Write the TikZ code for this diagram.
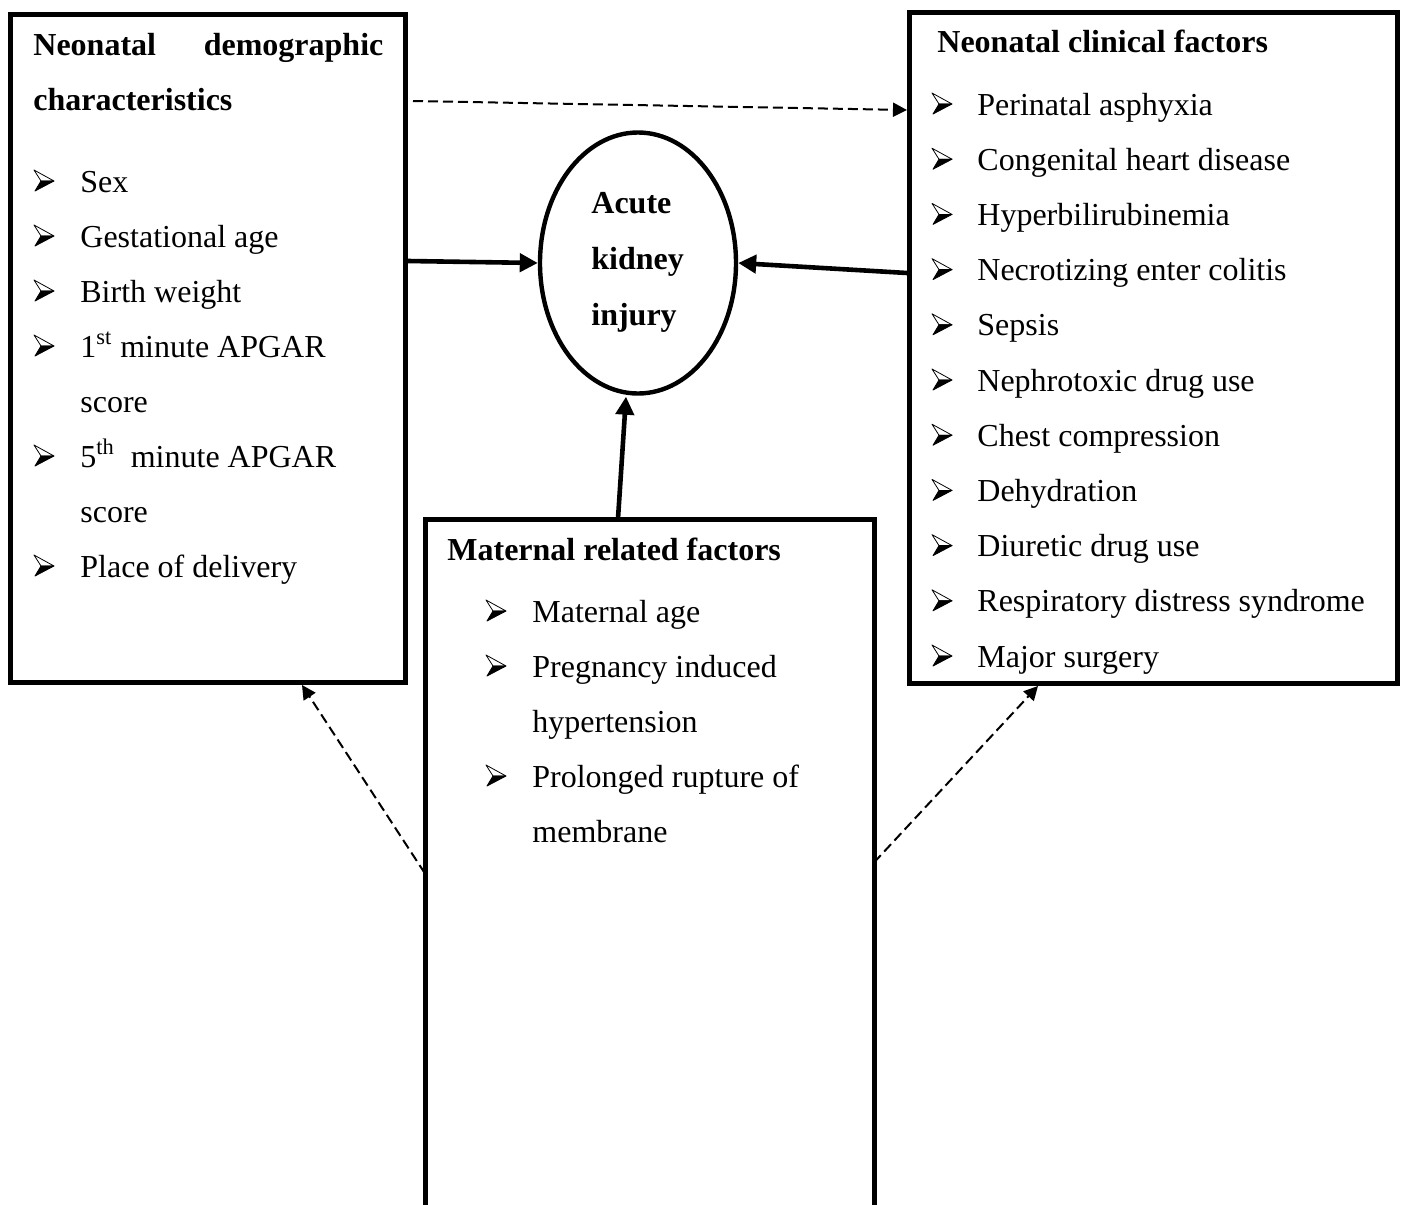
\documentclass[tikz,border=0pt]{standalone}
\usepackage{fontspec}
\setmainfont{Liberation Serif}
\usetikzlibrary{arrows.meta,calc,shapes.geometric}
\tikzset{
  box/.style={draw, line width=2.5pt, rectangle, inner sep=0pt},
  txt/.style={anchor=base west, inner sep=0pt, font=\fontsize{16}{19}\selectfont},
  hd/.style={anchor=base west, inner sep=0pt, font=\fontsize{16}{19}\selectfont\bfseries},
  solidarr/.style={line width=2.3pt, -{Triangle[length=9pt,width=9pt]}},
  dasharr/.style={line width=1pt, dash pattern=on 5pt off 2.5pt, -{Triangle[length=7pt,width=7pt]}},
  abul/.pic={
    \filldraw[fill=white, draw=black, line width=0.4pt, line join=round] (0,-22) -- (20,-11) -- (7,-11) -- cycle;
    \filldraw[fill=black, draw=black, line width=0.4pt, line join=round] (7,-11) -- (20,-11) -- (1,-1) -- cycle;
  },
}
\begin{document}
\begin{tikzpicture}[x=0.5pt,y=-0.5pt]
\fill[white] (0,0) rectangle (1404,1205);
\useasboundingbox (0,0) rectangle (1404,1205);

% boxes
\node[box, minimum width=197.5pt, minimum height=334pt] (L) at (208,348.5) {};
\node[box, minimum width=244pt, minimum height=335.5pt] (R) at (1153.5,348) {};
\node[draw=none, inner sep=0pt, outer sep=0pt, minimum width=224.5pt, minimum height=349pt] (M) at (649.5,868.5) {};
\draw[line width=2.5pt] ($(M.north west)+(0,700)$) -- (M.north west) -- (M.north east) -- ($(M.north east)+(0,700)$);

% ellipse
\node[draw, ellipse, line width=2.2pt, minimum width=98pt, minimum height=130.5pt, inner sep=0pt] (A) at (638,263) {};
\node[hd] (a1) at (591,213) {Acute};
\node[hd] (a2) at (591,269) {kidney};
\node[hd] (a3) at (591,325) {injury};

% left box text
\node[hd] (lh1) at (33,55) {\makebox[175pt][l]{Neonatal\hfill demographic}};
\node[hd] (lh2) at (33,110) {characteristics};
\pic (lb1) at (34,192) {abul}; \node[txt] (lt1) at (80,192) {Sex};
\pic (lb2) at (34,247) {abul}; \node[txt] (lt2) at (80,247) {Gestational age};
\pic (lb3) at (34,302) {abul}; \node[txt] (lt3) at (80,302) {Birth weight};
\pic (lb4) at (34,357) {abul}; \node[txt] (lt4) at (80,357) {1\textsuperscript{st} minute APGAR};
\node[txt] (lt5) at (80,412) {score};
\pic (lb6) at (34,467) {abul}; \node[txt] (lt6) at (80,467) {5\textsuperscript{th}\ \ minute APGAR};
\node[txt] (lt7) at (80,522) {score};
\pic (lb8) at (34,577) {abul}; \node[txt] (lt8) at (80,577) {Place of delivery};

% right box text
\node[hd] (rh) at (937,52) {Neonatal clinical factors};
\foreach \t [count=\i from 0] in {Perinatal asphyxia, Congenital heart disease, Hyperbilirubinemia, Necrotizing enter colitis, Sepsis, Nephrotoxic drug use, Chest compression, Dehydration, Diuretic drug use, Respiratory distress syndrome, Major surgery} {
  \pic (rb\i) at (932,{115+55.2*\i}) {abul};
  \node[txt] (rt\i) at (977,{115+55.2*\i}) {\t};
}

% bottom box text
\node[hd] (mh) at (447,560) {Maternal related factors};
\pic (mb1) at (486,622) {abul}; \node[txt] (mt1) at (532,622) {Maternal age};
\pic (mb2) at (486,677) {abul}; \node[txt] (mt2) at (532,677) {Pregnancy induced};
\node[txt] (mt3) at (532,732) {hypertension};
\pic (mb4) at (486,787) {abul}; \node[txt] (mt4) at (532,787) {Prolonged rupture of};
\node[txt] (mt5) at (532,842) {membrane};

% connectors
\draw[dasharr] ($(L.north east)+(5,89)$) -- ($(R.north west)+(0,100)$);
\draw[solidarr] ($(L.north east)+(0,249)$) -- (A.west);
\draw[solidarr] ($(R.north west)+(0,263)$) -- (A.east);
\draw[solidarr] ($(M.north west)+(193,-1)$) -- ($(A.south)+(-12,1)$);
\draw[dasharr] ($(M.north west)+(0,354)$) -- ($(L.south west)+(294,0)$);
\draw[dasharr] ($(M.north east)+(0,343)$) -- ($(R.south west)+(131,0)$);
\end{tikzpicture}
\end{document}
